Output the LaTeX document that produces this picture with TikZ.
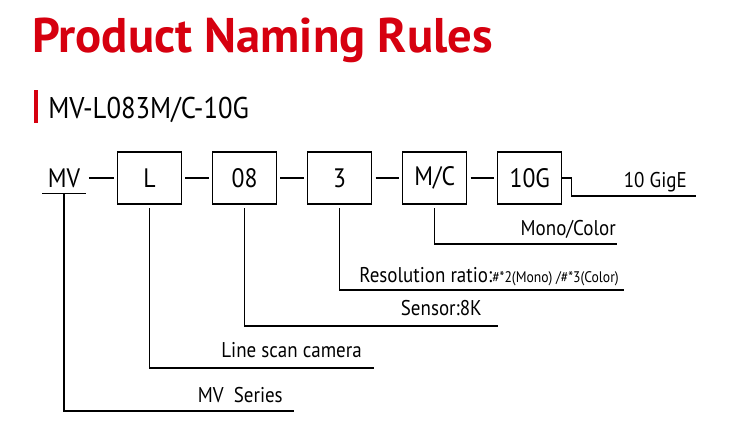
\documentclass[tikz,border=0pt]{standalone}
\usepackage{fontspec}
\setmainfont{PT Sans}[FakeStretch=0.89]
\newfontfamily\headfont{PT Sans}
\usetikzlibrary{positioning}
\definecolor{rulered}{RGB}{214,0,15}
\tikzset{
  part/.style={draw,line width=0.8pt,minimum width=48pt,minimum height=39pt,inner sep=0pt,font=\fontsize{20}{24}\selectfont},
  link/.style={line width=0.8pt,shorten <=2.5pt,shorten >=2.5pt},
  lead/.style={line width=0.8pt,line cap=rect},
  lbl/.style={anchor=base east,inner sep=0pt,font=\fontsize{16}{19}\selectfont},
}
\newcommand{\smalltxt}[1]{{\fontsize{11.5}{14}\selectfont #1}}

\begin{document}
\begin{tikzpicture}[x=0.75pt,y=-0.75pt]
\useasboundingbox (0,0) rectangle (743,436);
% heading
\node[anchor=base west,inner sep=0pt,text=rulered,font=\headfont\fontsize{36.5}{42}\selectfont\bfseries] (title) at (32,52) {Product Naming Rules};
\fill[rulered] (34,90) rectangle (38,123);
\node[anchor=base west,inner sep=0pt,font=\fontsize{22.5}{27}\selectfont] (model) at (48,118) {MV-L083M/C-10G};
% code parts
\node[inner sep=0pt,minimum width=32pt,minimum height=22.5pt,font=\fontsize{20}{24}\selectfont] (mv) at (64,178) {MV};
\node[part] (bL) at (149.5,178) {L};
\node[part,right=22.5pt of bL] (b08) {08};
\node[part,right=22.5pt of b08] (b3) {3};
\node[part,right=22.5pt of b3] (bMC) {M/C};
\node[part,right=22.5pt of bMC] (b10G) {10G};
\draw[lead] (mv.south west) -- (mv.south east);
\draw[link] (mv.east) -- (bL.west);
\draw[link] (bL.east) -- (b08.west);
\draw[link] (b08.east) -- (b3.west);
\draw[link] (b3.east) -- (bMC.west);
\draw[link] (bMC.east) -- (b10G.west);
% line ends
\coordinate (eG) at (695,196);
\coordinate (eMC) at (616,244);
\coordinate (e3) at (623,290);
\coordinate (e08) at (497,326);
\coordinate (eL) at (373,368);
\coordinate (eMV) at (293,411);
% leaders
\draw[lead] (b10G.east) -- ++(9,0) |- (eG);
\draw[lead,shorten <=3pt] (bMC.south) |- (eMC);
\draw[lead,shorten <=3pt] (b3.south) |- (e3);
\draw[lead,shorten <=3pt] (b08.south) |- (e08);
\draw[lead,shorten <=3pt] (bL.south) |- (eL);
\draw[lead] (mv.south) |- (eMV);
% labels
\node[lbl] (tG) at (687,187) {10 GigE};
\node[lbl] (tMC) at (616,235) {Mono/Color};
\node[lbl] (t3) at (619,282) {Resolution ratio:\smalltxt{\#*2(Mono) /\#*3(Color)}};
\node[lbl] (t08) at (482,315) {Sensor:8K};
\node[lbl] (tL) at (362,357) {Line scan camera};
\node[lbl] (tMV) at (283,402) {MV\ \ Series};
\end{tikzpicture}
\end{document}
